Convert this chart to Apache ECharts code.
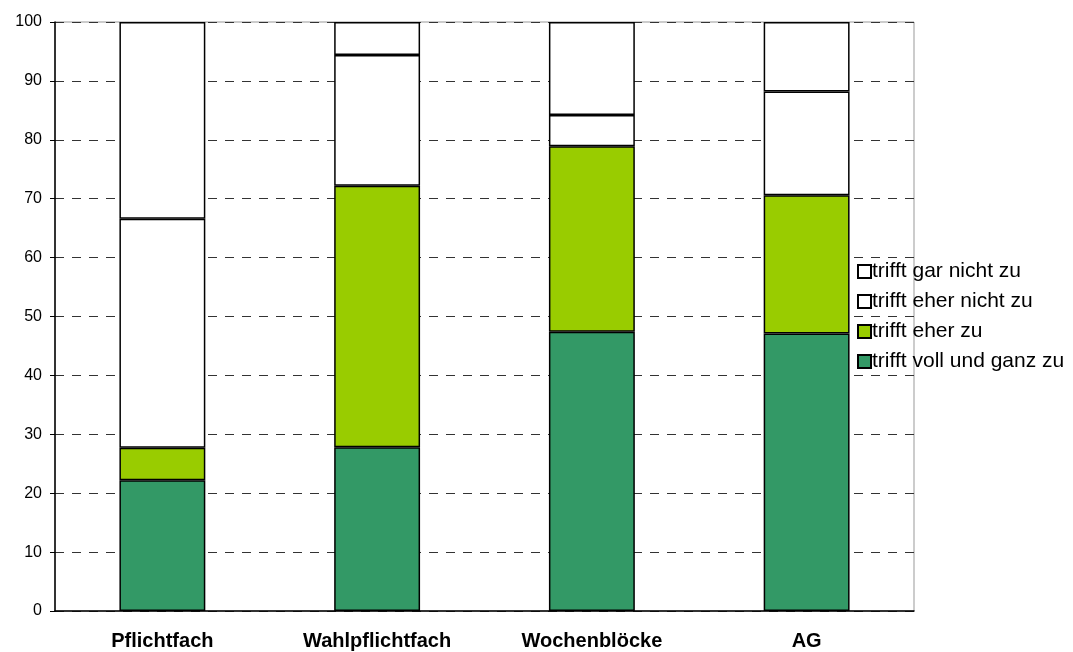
<!DOCTYPE html>
<html>
<head>
<meta charset="utf-8">
<script src="https://cdn.jsdelivr.net/npm/echarts@6/dist/echarts.min.js"></script>
<style>
html,body{margin:0;padding:0;background:#fff;}
#chart{width:1073px;height:652px;}
</style>
</head>
<body>
<div id="chart"></div>
<script>
var categories = ['Pflichtfach', 'Wahlpflichtfach', 'Wochenblöcke', 'AG'];
var vollUndGanz = [22.2, 27.8, 47.4, 47.1];
var eherZu = [5.5, 44.4, 31.5, 23.5];
var eherNicht = [38.9, 22.2, 5.3, 17.6];
var garNicht = [33.4, 5.6, 15.8, 11.8];
var yTicks = [0, 10, 20, 30, 40, 50, 60, 70, 80, 90, 100];

var myChart = echarts.init(document.getElementById('chart'));

function bar(name, data, color) {
    return {
        name: name,
        type: 'bar',
        stack: 'all',
        barWidth: '40%',
        data: data,
        itemStyle: {color: color, borderColor: '#000', borderWidth: 1.5},
        emphasis: {disabled: true}
    };
}

option = {
    animation: false,
    textStyle: {fontFamily: 'Liberation Sans, Arial, sans-serif'},
    grid: {left: 55, right: 159, top: 22, bottom: 41, show: true, borderColor: '#999', borderWidth: 1},
    legend: {
        orient: 'vertical',
        left: 857,
        top: 261,
        padding: 0,
        icon: 'rect',
        itemWidth: 13,
        itemHeight: 13,
        itemGap: 9,
        textStyle: {fontSize: 21, lineHeight: 21, color: '#000', padding: [0, 0, 0, -4]},
        data: ['trifft gar nicht zu', 'trifft eher nicht zu', 'trifft eher zu', 'trifft voll und ganz zu']
    },
    xAxis: {
        type: 'category',
        data: categories,
        axisLine: {lineStyle: {color: '#000', width: 1.5}},
        axisTick: {length: 6, lineStyle: {color: '#555'}},
        axisLabel: {fontSize: 20, fontWeight: 'bold', color: '#000', margin: 20}
    },
    yAxis: {
        type: 'value',
        min: yTicks[0],
        max: yTicks[yTicks.length - 1],
        interval: 10,
        axisLine: {show: true, lineStyle: {color: '#000', width: 1.5}},
        axisTick: {show: true, length: 5, lineStyle: {color: '#000'}},
        axisLabel: {fontSize: 16, color: '#000', margin: 13},
        splitLine: {lineStyle: {color: '#333', type: [9, 8], width: 1}}
    },
    series: [
        bar('trifft voll und ganz zu', vollUndGanz, '#339966'),
        bar('trifft eher zu', eherZu, '#99cc00'),
        bar('trifft eher nicht zu', eherNicht, '#ffffff'),
        bar('trifft gar nicht zu', garNicht, '#ffffff')
    ]
};
myChart.setOption(option);
</script>
</body>
</html>
